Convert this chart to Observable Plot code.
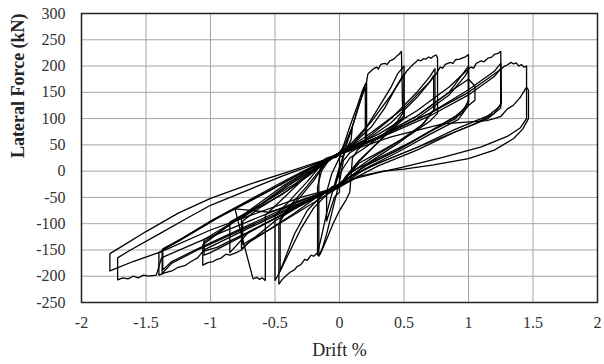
<!DOCTYPE html>
<html>
<head>
<meta charset="utf-8">
<script src="https://cdn.jsdelivr.net/npm/d3@7"></script>
<script src="https://cdn.jsdelivr.net/npm/@observablehq/plot@0.6"></script>
<style>
  html, body { margin: 0; padding: 0; background: #fff; }
  #chart { width: 604px; height: 364px; }
</style>
</head>
<body>
<div id="chart"></div>
<script>
// Tick values
const xTicks = [-2, -1.5, -1, -0.5, 0, 0.5, 1, 1.5, 2];
const yTicks = [-250, -200, -150, -100, -50, 0, 50, 100, 150, 200, 250, 300];

// Hysteresis cycles: [drift %, lateral force kN]
const c01 = [[0,0],[0.02,18],[0.04,35],[0.05,42],[0.03,28],[0,8],[-0.03,-18],[-0.05,-38],[-0.03,-25],[0,0],[0.02,22]];
const c02 = [[0.02,22],[0.06,55],[0.1,85],[0.09,60],[0.05,40],[0.03,30],[0,26],[0,-40],[-0.04,-50],[-0.08,-80],[-0.1,-95],[-0.1,-40],[-0.06,-5],[0,26]];
const c03 = [[0,26],[0.04,55],[0.08,85],[0.12,112],[0.14,125],[0.16,140],[0.18,155],[0.2,165],[0.21,168],[0.21,60],[0.15,45],[0.08,35],[0.03,20],[0,-20],[-0.02,-40],[-0.06,-80],[-0.1,-120],[-0.13,-145],[-0.16,-162],[-0.16,-20],[-0.15,5],[-0.1,20],[-0.03,30],[0,35]];
const c04 = [[0,35],[0.05,55],[0.1,85],[0.15,125],[0.2,160],[0.2,55],[0.14,40],[0.1,25],[0.08,-40],[0.05,-55],[0,-75],[-0.05,-100],[-0.1,-130],[-0.15,-158],[-0.17,-160],[-0.17,-30],[-0.14,0],[-0.08,22],[0,35]];
const c05 = [[0,35],[0.05,50],[0.1,85],[0.15,125],[0.19,158],[0.21,170],[0.22,185],[0.25,192],[0.27,196],[0.29,198],[0.3,194],[0.32,203],[0.35,205],[0.37,203],[0.39,210],[0.42,213],[0.44,218],[0.46,222],[0.48,228],[0.49,110],[0.45,95],[0.35,72],[0.2,45],[0.08,25],[0,-5],[-0.05,-35],[-0.1,-80],[-0.14,-125],[-0.17,-155],[-0.2,-162],[-0.22,-160],[-0.25,-170],[-0.27,-168],[-0.3,-178],[-0.33,-182],[-0.35,-188],[-0.38,-192],[-0.41,-198],[-0.44,-205],[-0.47,-215],[-0.47,-100],[-0.42,-80],[-0.3,-48],[-0.2,-18],[-0.12,12],[-0.06,24],[-0.02,28],[0.02,40]];
const c06 = [[0.02,40],[0.1,50],[0.2,80],[0.3,120],[0.4,160],[0.45,185],[0.5,200],[0.5,105],[0.42,85],[0.3,55],[0.15,20],[0.05,-10],[0,-30],[-0.06,-36],[-0.1,-45],[-0.2,-70],[-0.3,-110],[-0.4,-160],[-0.48,-200],[-0.5,-208],[-0.5,-85],[-0.4,-60],[-0.25,-20],[-0.12,18],[-0.05,28],[0.02,38]];
const c07 = [[0.02,38],[0.12,55],[0.25,85],[0.35,120],[0.45,165],[0.5,185],[0.5,100],[0.4,78],[0.28,50],[0.15,18],[0.05,-12],[-0.03,-32],[-0.12,-42],[-0.25,-75],[-0.35,-120],[-0.42,-165],[-0.46,-190],[-0.46,-90],[-0.38,-65],[-0.25,-28],[-0.12,12],[-0.04,28],[0.03,40]];
const c08 = [[0.03,40],[0.1,55],[0.25,95],[0.4,145],[0.48,175],[0.5,182],[0.52,190],[0.55,198],[0.57,203],[0.59,207],[0.61,212],[0.63,210],[0.65,214],[0.67,213],[0.69,217],[0.71,215],[0.73,219],[0.75,221],[0.76,215],[0.76,110],[0.7,95],[0.55,70],[0.35,42],[0.15,15],[0.02,-22],[-0.04,-30],[-0.1,-38],[-0.3,-62],[-0.55,-78],[-0.81,-72],[-0.74,-140],[-0.67,-205],[-0.64,-202],[-0.62,-206],[-0.6,-203],[-0.575,-208],[-0.575,-84],[-0.45,-55],[-0.3,-20],[-0.15,15],[-0.08,24],[0,35]];
const c09 = [[0,35],[0.2,60],[0.4,100],[0.6,150],[0.7,180],[0.74,195],[0.74,120],[0.65,90],[0.45,55],[0.25,25],[0.05,-10],[0,-30],[-0.1,-45],[-0.3,-75],[-0.5,-105],[-0.7,-135],[-0.76,-148],[-0.76,-90],[-0.65,-72],[-0.45,-45],[-0.25,-10],[-0.1,20],[0,35]];
const c10 = [[0.03,40],[0.2,58],[0.4,92],[0.6,140],[0.7,170],[0.73,182],[0.73,115],[0.63,85],[0.45,52],[0.25,20],[0.08,-12],[-0.02,-33],[-0.15,-45],[-0.35,-80],[-0.55,-112],[-0.7,-132],[-0.75,-140],[-0.75,-95],[-0.62,-70],[-0.42,-40],[-0.22,-5],[-0.08,22],[0.01,36]];
const c11 = [[0.01,36],[0.2,65],[0.5,120],[0.7,170],[0.75,185],[0.78,198],[0.8,196],[0.82,203],[0.86,207],[0.88,205],[0.9,212],[0.93,213],[0.95,215],[0.98,218],[1.0,222],[1.0,135],[0.95,110],[0.8,90],[0.55,55],[0.3,25],[0.1,0],[0,-25],[-0.06,-30],[-0.1,-40],[-0.3,-65],[-0.5,-95],[-0.7,-135],[-0.76,-150],[-0.8,-155],[-0.85,-160],[-0.88,-158],[-0.92,-166],[-0.95,-168],[-0.98,-172],[-1.02,-174],[-1.06,-179],[-1.06,-140],[-0.95,-120],[-0.7,-75],[-0.45,-30],[-0.25,0],[-0.1,25],[-0.06,28],[-0.03,26],[0,35]];
const c12 = [[0,35],[0.3,65],[0.6,105],[0.85,150],[0.97,190],[1.0,200],[1.0,130],[0.9,100],[0.7,75],[0.45,40],[0.2,10],[0,-25],[-0.2,-50],[-0.5,-90],[-0.7,-115],[-0.85,-155],[-0.85,-97],[-0.6,-62],[-0.35,-25],[-0.15,12],[0,35]];
const c13 = [[0.01,36],[0.3,62],[0.6,100],[0.85,145],[0.97,180],[1.0,192],[1.0,125],[0.92,98],[0.7,70],[0.45,36],[0.2,5],[0.03,-25],[-0.1,-40],[-0.4,-78],[-0.7,-115],[-0.95,-145],[-1.05,-152],[-1.05,-130],[-0.88,-105],[-0.6,-62],[-0.35,-20],[-0.15,10],[-0.02,30]];
const c14 = [[-0.02,30],[0.3,65],[0.6,105],[0.85,150],[1.0,175],[1.05,162],[1.05,135],[0.9,105],[0.7,75],[0.45,40],[0.2,10],[0,-25],[-0.2,-50],[-0.5,-90],[-0.8,-130],[-1.0,-155],[-1.05,-160],[-1.05,-135],[-0.9,-110],[-0.65,-70],[-0.4,-25],[-0.2,5],[0,35]];
const c15 = [[0,35],[0.3,70],[0.6,115],[0.85,160],[0.98,190],[1.02,198],[1.04,196],[1.06,205],[1.1,210],[1.12,208],[1.15,215],[1.18,217],[1.2,222],[1.23,224],[1.25,228],[1.255,130],[1.2,110],[1.05,90],[0.8,65],[0.5,35],[0.25,10],[0.05,-15],[0,-30],[-0.2,-50],[-0.5,-85],[-0.8,-120],[-1.05,-150],[-1.1,-165],[-1.15,-172],[-1.2,-180],[-1.25,-183],[-1.3,-190],[-1.35,-193],[-1.4,-198],[-1.4,-155],[-1.3,-140],[-1.0,-95],[-0.7,-55],[-0.4,-15],[-0.2,10],[0,35]];
const c16 = [[0,35],[0.3,65],[0.7,110],[1.0,155],[1.2,190],[1.25,205],[1.25,125],[1.15,105],[0.9,80],[0.6,45],[0.3,15],[0.05,-15],[0,-30],[-0.3,-60],[-0.7,-105],[-1.1,-150],[-1.3,-175],[-1.375,-195],[-1.375,-150],[-1.25,-134],[-0.95,-90],[-0.6,-45],[-0.3,-5],[-0.1,20],[0,35]];
const c17 = [[-0.02,30],[0.3,62],[0.7,105],[1.0,145],[1.2,180],[1.25,195],[1.25,120],[1.15,100],[0.9,75],[0.6,40],[0.3,10],[0.08,-18],[-0.05,-33],[-0.35,-62],[-0.75,-108],[-1.1,-148],[-1.3,-172],[-1.37,-188],[-1.37,-148],[-1.22,-128],[-0.9,-82],[-0.55,-38],[-0.3,-4],[-0.1,20],[0,33]];
const c18 = [[0,33],[0.3,65],[0.7,110],[1.0,150],[1.2,185],[1.26,196],[1.28,200],[1.3,202],[1.33,207],[1.35,204],[1.37,206],[1.39,200],[1.41,203],[1.43,198],[1.45,200],[1.45,100],[1.4,82],[1.3,66],[1.1,46],[0.8,26],[0.5,8],[0.3,-3],[0.1,-15],[0,-30],[-0.3,-55],[-0.7,-95],[-1.1,-135],[-1.38,-165],[-1.42,-198],[-1.48,-200],[-1.52,-198],[-1.56,-203],[-1.6,-200],[-1.64,-205],[-1.68,-203],[-1.72,-207],[-1.72,-165],[-1.62,-150],[-1.4,-120],[-1.2,-92],[-1.0,-65],[-0.7,-35],[-0.45,-10],[-0.25,8],[0,32]];
const c19 = [[0,32],[0.4,65],[0.8,90],[1.14,96],[1.2,100],[1.25,104],[1.3,118],[1.35,126],[1.4,140],[1.45,160],[1.465,154],[1.465,100],[1.42,80],[1.35,62],[1.2,40],[1.0,24],[0.73,12],[0.5,4],[0.34,0],[0.15,-10],[0,-30],[-0.3,-50],[-0.7,-85],[-1.0,-112],[-1.39,-154],[-1.6,-172],[-1.78,-190],[-1.78,-157],[-1.7,-145],[-1.5,-115],[-1.25,-80],[-1.0,-52],[-0.7,-25],[-0.38,0],[-0.2,15],[0,30]];

const cycles = [c01, c02, c03, c04, c05, c06, c07, c08, c09, c10, c11, c12, c13, c14, c15, c16, c17, c18, c19];
const rows = cycles.flatMap((c, i) => c.map(([d, f]) => ({cycle: i, drift: d, force: f})));

const fmt = d => String(d);

const chart = Plot.plot({
  width: 604,
  height: 364,
  marginLeft: 81,
  marginRight: 7,
  marginTop: 13,
  marginBottom: 62,
  style: {fontFamily: "'Liberation Serif', 'Times New Roman', serif", fontSize: "16px", background: "#fff", color: "#333"},
  x: {domain: [-2, 2], ticks: xTicks, tickFormat: fmt, label: null},
  y: {domain: [-250, 300], ticks: yTicks, tickFormat: fmt, label: null},
  marks: [
    Plot.gridX(xTicks, {stroke: "#a6a6a6", strokeOpacity: 1, strokeWidth: 1}),
    Plot.gridY(yTicks, {stroke: "#a6a6a6", strokeOpacity: 1, strokeWidth: 1}),
    Plot.axisX(xTicks, {tickSize: 0, tickPadding: 14, tickFormat: fmt, fontSize: 16, label: null}),
    Plot.axisY(yTicks, {tickSize: 0, tickPadding: 16, tickFormat: fmt, fontSize: 16, label: null}),
    Plot.line(rows, {x: "drift", y: "force", z: "cycle", stroke: "#000", strokeWidth: 1.3, strokeLinejoin: "round"}),
    Plot.frame({stroke: "#222", strokeWidth: 1.5}),
    Plot.text(["Drift %"], {frameAnchor: "bottom", dy: 48, lineAnchor: "middle", fontSize: 18, fill: "#222"}),
    Plot.text(["Lateral Force (kN)"], {frameAnchor: "left", dx: -63, rotate: -90, lineAnchor: "middle", fontSize: 18, fontWeight: "bold", fill: "#222"})
  ]
});
document.getElementById("chart").appendChild(chart);
</script>
</body>
</html>
